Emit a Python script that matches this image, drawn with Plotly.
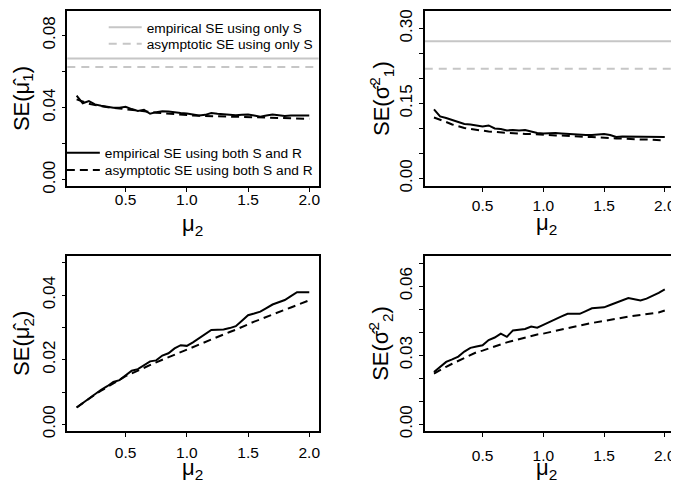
import plotly.graph_objects as go

# ---------------- data ----------------
mu2 = [0.10, 0.15, 0.20, 0.25, 0.30, 0.35, 0.40, 0.45, 0.50, 0.55,
       0.60, 0.65, 0.70, 0.75, 0.80, 0.85, 0.90, 0.95, 1.00, 1.05,
       1.10, 1.15, 1.20, 1.25, 1.30, 1.35, 1.40, 1.45, 1.50, 1.55,
       1.60, 1.65, 1.70, 1.75, 1.80, 1.85, 1.90, 1.95, 2.00]

# SE(mu1_hat)
mu1_emp = [0.0466, 0.0424, 0.0436, 0.0418, 0.0410, 0.0405, 0.0400, 0.0400, 0.0405, 0.0392,
           0.0382, 0.0388, 0.0366, 0.0375, 0.0380, 0.0378, 0.0372, 0.0370, 0.0368, 0.0362,
           0.0357, 0.0360, 0.0370, 0.0366, 0.0362, 0.0360, 0.0358, 0.0360, 0.0362, 0.0356,
           0.0350, 0.0356, 0.0362, 0.0358, 0.0354, 0.0356, 0.0357, 0.0357, 0.0356]
mu1_asy = [0.0446, 0.0432, 0.0422, 0.0414, 0.0408, 0.0403, 0.0398, 0.0395, 0.0392, 0.0388,
           0.0384, 0.0380, 0.0376, 0.0372, 0.0369, 0.0366, 0.0364, 0.0361, 0.0358, 0.0356,
           0.0355, 0.0354, 0.0353, 0.0352, 0.0351, 0.0350, 0.0349, 0.0348, 0.0347, 0.0346,
           0.0345, 0.0344, 0.0343, 0.0342, 0.0341, 0.0340, 0.0340, 0.0339, 0.0338]
mu1_only_s = [0.0672, 0.0626]  # empirical, asymptotic (only S)

# SE(sigma1^2_hat)
s1_emp = [0.138, 0.124, 0.121, 0.117, 0.113, 0.109, 0.108, 0.106, 0.104, 0.106,
          0.100, 0.099, 0.096, 0.097, 0.096, 0.097, 0.094, 0.091, 0.090, 0.091,
          0.091, 0.090, 0.089, 0.088, 0.087, 0.087, 0.087, 0.088, 0.089, 0.087,
          0.083, 0.084, 0.084, 0.084, 0.084, 0.083, 0.083, 0.083, 0.083]
s1_asy = [0.122, 0.118, 0.113, 0.108, 0.104, 0.101, 0.099, 0.097, 0.095, 0.094,
          0.093, 0.092, 0.092, 0.091, 0.090, 0.089, 0.089, 0.088, 0.087, 0.087,
          0.086, 0.086, 0.085, 0.084, 0.084, 0.083, 0.083, 0.082, 0.082, 0.081,
          0.080, 0.080, 0.079, 0.079, 0.078, 0.078, 0.077, 0.077, 0.076]
s1_only_s = [0.2747, 0.2195]

# SE(mu2_hat)
mu2_emp = [0.0052, 0.0066, 0.0080, 0.0092, 0.0107, 0.0118, 0.0131, 0.0137, 0.0152, 0.0166,
           0.0171, 0.0182, 0.0195, 0.0198, 0.0213, 0.0220, 0.0235, 0.0245, 0.0243, 0.0254,
           0.0266, 0.0280, 0.0292, 0.0293, 0.0294, 0.0298, 0.0304, 0.0321, 0.0338, 0.0343,
           0.0349, 0.0360, 0.0371, 0.0378, 0.0385, 0.0397, 0.0409, 0.0409, 0.0409]
mu2_asy = [0.0052, 0.0066, 0.0079, 0.0092, 0.0104, 0.0116, 0.0127, 0.0138, 0.0149, 0.0158,
           0.0167, 0.0176, 0.0184, 0.0192, 0.0200, 0.0208, 0.0216, 0.0223, 0.0230, 0.0238,
           0.0246, 0.0254, 0.0262, 0.0270, 0.0278, 0.0286, 0.0293, 0.0302, 0.0311, 0.0318,
           0.0325, 0.0333, 0.0340, 0.0348, 0.0355, 0.0362, 0.0370, 0.0377, 0.0384]

# SE(sigma2^2_hat)
s2_emp = [0.0227, 0.0248, 0.0271, 0.0282, 0.0294, 0.0316, 0.0332, 0.0338, 0.0343, 0.0366,
          0.0377, 0.0394, 0.0380, 0.0408, 0.0412, 0.0414, 0.0425, 0.0420, 0.0432, 0.0445,
          0.0457, 0.0469, 0.0480, 0.0480, 0.0480, 0.0492, 0.0504, 0.0506, 0.0508, 0.0518,
          0.0529, 0.0538, 0.0548, 0.0543, 0.0538, 0.0546, 0.0557, 0.0571, 0.0586]
s2_asy = [0.0220, 0.0236, 0.0250, 0.0263, 0.0276, 0.0290, 0.0303, 0.0313, 0.0320, 0.0328,
          0.0338, 0.0347, 0.0356, 0.0363, 0.0370, 0.0377, 0.0384, 0.0390, 0.0394, 0.0400,
          0.0407, 0.0413, 0.0420, 0.0425, 0.0430, 0.0435, 0.0440, 0.0444, 0.0448, 0.0453,
          0.0458, 0.0463, 0.0468, 0.0471, 0.0475, 0.0477, 0.0480, 0.0486, 0.0494]

x_ticks = [0.5, 1.0, 1.5, 2.0]
x_ticktext = ["0.5", "1.0", "1.5", "2.0"]
y1_ticks = [0.00, 0.02, 0.04, 0.06, 0.08]
y1_text = ["0.00", "", "0.04", "", "0.08"]
y2_ticks = [0.00, 0.05, 0.10, 0.15, 0.20, 0.25, 0.30]
y2_text = ["0.00", "", "", "0.15", "", "", "0.30"]
y3_ticks = [0.00, 0.01, 0.02, 0.03, 0.04, 0.05]
y3_text = ["0.00", "", "0.02", "", "0.04", ""]
y4_ticks = [0.00, 0.01, 0.02, 0.03, 0.04, 0.05, 0.06, 0.07]
y4_text = ["0.00", "", "", "0.03", "", "", "0.06", ""]

leg_emp_S = "empirical SE using only S"
leg_asy_S = "asymptotic SE using only S"
leg_emp_SR = "empirical SE using both S and R"
leg_asy_SR = "asymptotic SE using both S and R"

# ---------------- figure ----------------
# page has an 8px body margin; work in page pixels and convert
OFF = 8
W, H = 679 - OFF, 489 - OFF
FONT = "Liberation Sans, Arial, sans-serif"
GRAY = "#c6c6c6"

def px_x(p):
    return (p - OFF) / W

def px_y(p):
    return 1 - (p - OFF) / H

fig = go.Figure()

panels = [
    ("x", "y", mu1_emp, mu1_asy),
    ("x2", "y2", s1_emp, s1_asy),
    ("x3", "y3", mu2_emp, mu2_asy),
    ("x4", "y4", s2_emp, s2_asy),
]
for i, (xa, ya, emp, asy) in enumerate(panels):
    first = i == 0
    fig.add_trace(go.Scatter(x=mu2, y=emp, mode="lines", xaxis=xa, yaxis=ya,
                             line=dict(color="black", width=2),
                             name=leg_emp_SR, showlegend=first, legend="legend3"))
    fig.add_trace(go.Scatter(x=mu2, y=asy, mode="lines", xaxis=xa, yaxis=ya,
                             line=dict(color="black", width=2, dash="8px,5px"),
                             name=leg_asy_SR, showlegend=first, legend="legend4"))

# horizontal reference lines (only S)
for ya, vals, show in [("y", mu1_only_s, True), ("y2", s1_only_s, False)]:
    xref = "x domain" if ya == "y" else "x2 domain"
    fig.add_shape(type="line", xref=xref, yref=ya, x0=0, x1=1, y0=vals[0], y1=vals[0],
                  line=dict(color=GRAY, width=2), showlegend=show, name=leg_emp_S,
                  legend="legend", layer="below")
    fig.add_shape(type="line", xref=xref, yref=ya, x0=0, x1=1, y0=vals[1], y1=vals[1],
                  line=dict(color=GRAY, width=2, dash="8px,6px"), showlegend=show,
                  name=leg_asy_S, legend="legend2", layer="below")

xl = [px_x(67.5), px_x(319.5)]
xr = [px_x(426), px_x(676)]
yt = [px_y(188), px_y(9)]
yb = [px_y(437.7), px_y(259)]

axis_common = dict(showline=True, mirror=True, linecolor="black", linewidth=1.5,
                   ticks="outside", ticklen=4, tickwidth=1, tickcolor="black",
                   showgrid=False, zeroline=False)

def xaxis(domain, anchor, standoff):
    return dict(axis_common, domain=domain, anchor=anchor, range=[0.024, 2.076],
                tickmode="array", tickvals=x_ticks, ticktext=x_ticktext,
                ticklabelstandoff=standoff,
                tickfont=dict(family=FONT, size=15.5, color="black"))

def yaxis(domain, anchor, rng, tv, tt):
    return dict(axis_common, domain=domain, anchor=anchor, range=rng,
                tickmode="array", tickvals=tv, ticktext=tt, tickangle=-90,
                tickfont=dict(family=FONT, size=17, color="black"))

LEG_FONT = dict(family=FONT, size=13.7, color="black")

def legend_at(left_px, center_px):
    return dict(x=px_x(left_px), xanchor="left", y=px_y(center_px - 16), yanchor="top",
                bgcolor="rgba(0,0,0,0)", font=LEG_FONT, itemwidth=33,
                borderwidth=0)

fig.update_layout(
    width=W, height=H,
    margin=dict(l=0, r=0, t=0, b=0),
    paper_bgcolor="white", plot_bgcolor="white",
    font=dict(family=FONT, color="black"),
    xaxis=xaxis(xl, "y", -6),
    xaxis2=xaxis(xr, "y2", 0),
    xaxis3=xaxis(xl, "y3", 3),
    xaxis4=xaxis(xr, "y4", 6),
    yaxis=yaxis(yt, "x", [-0.0036, 0.0936], y1_ticks, y1_text),
    yaxis2=yaxis(yt, "x2", [-0.0156, 0.335], y2_ticks, y2_text),
    yaxis3=yaxis(yb, "x3", [-0.002, 0.0522], y3_ticks, y3_text),
    yaxis4=yaxis(yb, "x4", [-0.0028, 0.0732], y4_ticks, y4_text),
    legend=legend_at(104, 26),
    legend2=legend_at(104, 42.7),
    legend3=legend_at(62, 154),
    legend4=legend_at(62, 171.7),
    showlegend=True,
)

title_font = dict(family=FONT, size=22, color="black")
annots = [
    ("SE(μ̂<sub>1</sub>)", 23, 98, -90),
    ("SE(σ̂<sup>2</sup><sub>1</sub>)", 382, 98, -90),
    ("SE(μ̂<sub>2</sub>)", 23, 348, -90),
    ("SE(σ̂<sup>2</sup><sub>2</sub>)", 382, 348, -90),
    ("μ<sub>2</sub>", 193, 228, 0),
    ("μ<sub>2</sub>", 548, 227, 0),
    ("μ<sub>2</sub>", 193, 477, 0),
    ("μ<sub>2</sub>", 548, 477, 0),
]
for text, ax, ay, ang in annots:
    fig.add_annotation(text=text, x=px_x(ax), y=px_y(ay), xref="paper", yref="paper",
                       xanchor="center", yanchor="middle", showarrow=False,
                       textangle=ang, font=title_font)

fig.write_html("out.html")
